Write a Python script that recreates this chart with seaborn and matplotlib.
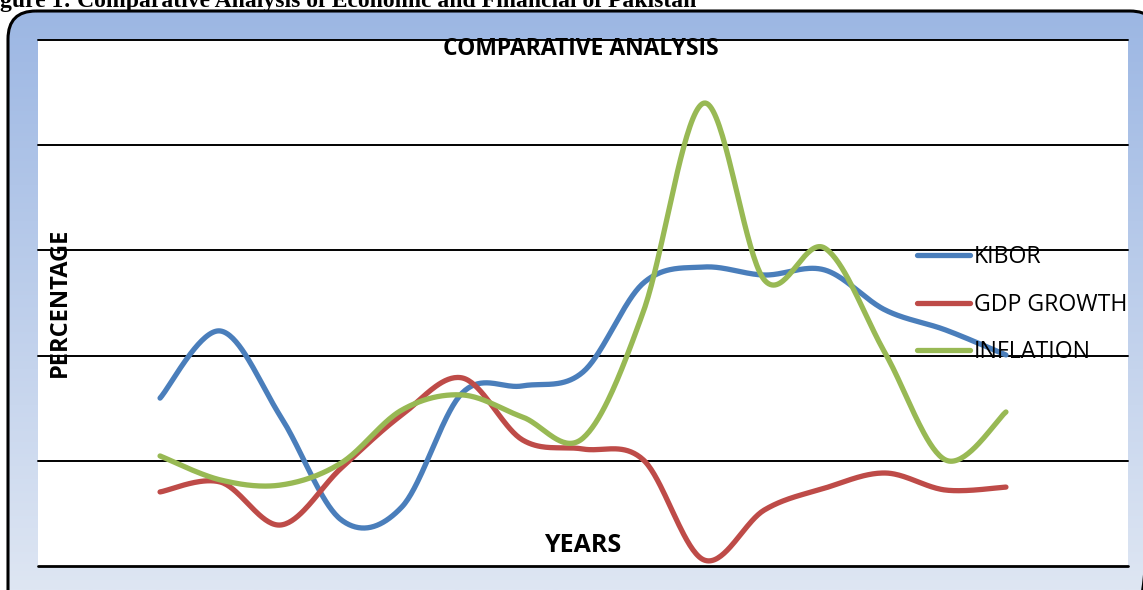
import numpy as np
import pandas as pd
import matplotlib
matplotlib.use("Agg")
import matplotlib.pyplot as plt
import seaborn as sns
from matplotlib.patches import FancyBboxPatch
from matplotlib.lines import Line2D

# values (percent), one per year
kibor = [7.98, 11.17, 7.08, 2.19, 2.80, 8.22, 8.56, 9.22, 13.45, 14.21, 13.83, 14.07, 12.17, 11.22, 10.03]
gdp_growth = [3.52, 3.99, 1.95, 4.66, 7.18, 8.94, 5.99, 5.56, 5.04, 0.29, 2.66, 3.70, 4.42, 3.61, 3.75]
inflation = [5.23, 4.09, 3.85, 4.90, 7.41, 8.13, 7.08, 6.08, 12.1, 22.0, 13.6, 15.11, 10.12, 5.04, 7.32]
series_names = ["KIBOR", "GDP GROWTH", "INFLATION"]
colors = {"KIBOR": "#4A7EBB", "GDP GROWTH": "#BE4B48", "INFLATION": "#98B954"}


def smooth(ys, n=40):
    # Excel style smoothed line: cubic bezier, control points from neighbours / 6
    ys = np.asarray(ys, float)
    xs = np.arange(len(ys), dtype=float)
    px = np.concatenate([[xs[0]], xs, [xs[-1]]])
    py = np.concatenate([[ys[0]], ys, [ys[-1]]])
    out_x, out_y = [], []
    t = np.linspace(0, 1, n)
    for i in range(1, len(px) - 2):
        p0 = np.array([px[i], py[i]])
        p3 = np.array([px[i + 1], py[i + 1]])
        c1 = p0 + (p3 - np.array([px[i - 1], py[i - 1]])) / 6
        c2 = p3 - (np.array([px[i + 2], py[i + 2]]) - p0) / 6
        b = ((1 - t) ** 3)[:, None] * p0 + (3 * (1 - t) ** 2 * t)[:, None] * c1 \
            + (3 * (1 - t) * t ** 2)[:, None] * c2 + (t ** 3)[:, None] * p3
        out_x.extend(b[:, 0])
        out_y.extend(b[:, 1])
    return out_x, out_y


rows = []
for name, vals in zip(series_names, [kibor, gdp_growth, inflation]):
    sx, sy = smooth(vals)
    rows.append(pd.DataFrame({"year": sx, "value": sy, "series": name}))
df = pd.concat(rows, ignore_index=True)

sns.set_theme(style="white")
plt.rcParams["font.family"] = ["Open Sans", "DejaVu Sans"]
plt.rcParams["text.color"] = "black"

W, H = 1143, 590
fig = plt.figure(figsize=(W / 100, H / 100), dpi=100)
fig.patch.set_facecolor("white")

# gradient rounded frame behind the chart
bg = fig.add_axes([0, 0, 1, 1])
bg.set_xlim(0, W)
bg.set_ylim(H, 0)
bg.axis("off")
frame = FancyBboxPatch((8, 11), 1150, 620, boxstyle="round,pad=0,rounding_size=28",
                       facecolor="none", edgecolor="black", linewidth=2.2, zorder=3)
bg.add_patch(frame)
grad = np.linspace(0, 1, 256)[:, None]
cmap = matplotlib.colors.LinearSegmentedColormap.from_list("bgfade", ["#9BB6E3", "#DEE6F3"])
img = bg.imshow(grad, extent=(0, W, H, 0), cmap=cmap, aspect="auto", zorder=1)
img.set_clip_path(frame)

bg.text(0, 7, "gure 1: Comparative Analysis of Economic and Financial of Pakistan",
        family=["Liberation Serif"], fontweight="bold", fontsize=17, va="baseline", ha="left",
        color="black")

# plot area
ax = fig.add_axes([38 / W, 1 - 566 / H, (1128 - 38) / W, (566 - 40) / H])
ax.set_facecolor("white")
sns.lineplot(data=df, x="year", y="value", hue="series", palette=colors, sort=False,
             linewidth=3.8, ax=ax, legend=False, estimator=None)
for ln in ax.get_lines():
    ln.set_solid_capstyle("round")

ax.set_xlim(-2.02, 16.02)
ax.set_ylim(0, 25)
for gy in range(0, 30, 5):
    ax.axhline(gy, color="black", linewidth=1.4 if gy else 2.0, clip_on=False, zorder=0.5)
for s in ax.spines.values():
    s.set_visible(False)
ax.set_xticks([])
ax.set_yticks([])
ax.set_xlabel("")
ax.set_ylabel("")

fig.text(581 / W, 1 - 49 / H, "COMPARATIVE ANALYSIS", fontweight="bold", fontsize=16.5,
         ha="center", va="center", color="black")
fig.text(583 / W, 1 - 545 / H, "YEARS", fontweight="bold", fontsize=18, ha="center",
         va="center", color="black")
fig.text(60 / W, 1 - 302 / H, "PERCENTAGE", fontweight="bold", fontsize=17, ha="center",
         va="center", rotation=90, color="black")

handles = [Line2D([0], [0], color=colors[n], linewidth=3.8, solid_capstyle="round") for n in series_names]
leg = ax.legend(handles, series_names, loc="upper left", bbox_to_anchor=(908 / W, 1 - 236 / H),
                bbox_transform=fig.transFigure, frameon=False, fontsize=16.7, handlelength=2.28,
                handletextpad=0.15, labelspacing=1.01, borderaxespad=0)
for txt in leg.get_texts():
    txt.set_color("black")

fig.savefig("out.png", dpi=100)
